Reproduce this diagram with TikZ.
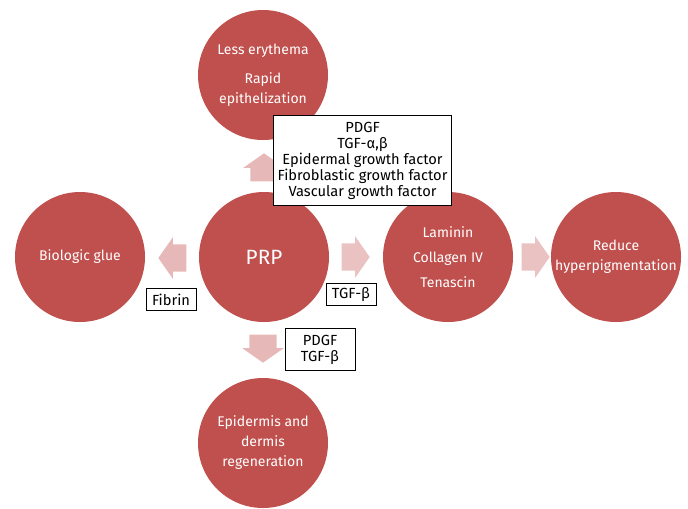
\documentclass[tikz,border=0pt]{standalone}
\usepackage{fontspec}
\setmainfont{Fira Sans}
\usetikzlibrary{shapes.arrows}
\definecolor{prpred}{HTML}{C0504D}
\begin{document}
\begin{tikzpicture}[x=0.75pt,y=-0.75pt,
    bubble/.style={
        circle,
        fill=prpred,
        text=white,
        minimum size=97.5pt,
        inner sep=0pt,
        align=center,
        font=\fontsize{10.5}{15}\selectfont
    },
    push/.style={
        single arrow,
        fill=prpred!40,
        draw=none,
        anchor=tip,
        minimum height=21pt,
        inner xsep=0pt,
        inner ysep=10pt,
        single arrow head extend=5.5pt,
        single arrow tip angle=110
    },
    tag/.style={
        rectangle,
        draw=black,
        line width=0.6pt,
        fill=white,
        align=center,
        inner sep=1pt,
        font=\fontsize{11}{12}\selectfont
    }
]
\useasboundingbox (0,0) rectangle (688,508);

\node[bubble] (prp) at (264,257) {\fontsize{15.5}{18}\selectfont PRP};
\node[bubble] (skin) at (263,75) {Less erythema\\[7pt]Rapid\\epithelization};
\node[bubble] (glue) at (80,257) {Biologic glue};
\node[bubble] (matrix) at (448,257) {Laminin\\[4pt]Collagen IV\\[4pt]Tenascin};
\node[bubble] (pigment) at (616,257) {Reduce\\hyperpigmentation};
\node[bubble] (regen) at (263,443) {Epidermis and\\dermis\\regeneration};

\node[push, rotate=90] (upArrow) at (264,153) {};
\node[push, rotate=180] (leftArrow) at (158,258) {};
\node[push, fill=prpred!35] (rightArrow) at (370,257) {};
\node[push, fill=prpred!35] (farArrow) at (550,257) {};
\node[push, rotate=-90] (downArrow) at (263,363) {};

\node[tag, minimum width=134pt, minimum height=68pt] (factors) at (362.5,160.5) {PDGF\\TGF-α,β\\Epidermal growth factor\\Fibroblastic growth factor\\Vascular growth factor};
\node[tag, minimum width=37.5pt, minimum height=17pt] (fibrin) at (171,299.5) {Fibrin};
\node[tag, minimum width=37.5pt, minimum height=17pt] (tgfRight) at (351,294.5) {TGF-β};
\node[tag, minimum width=52.5pt, minimum height=31pt] (tgfDown) at (320,349.5) {PDGF\\TGF-β};

\end{tikzpicture}
\end{document}
